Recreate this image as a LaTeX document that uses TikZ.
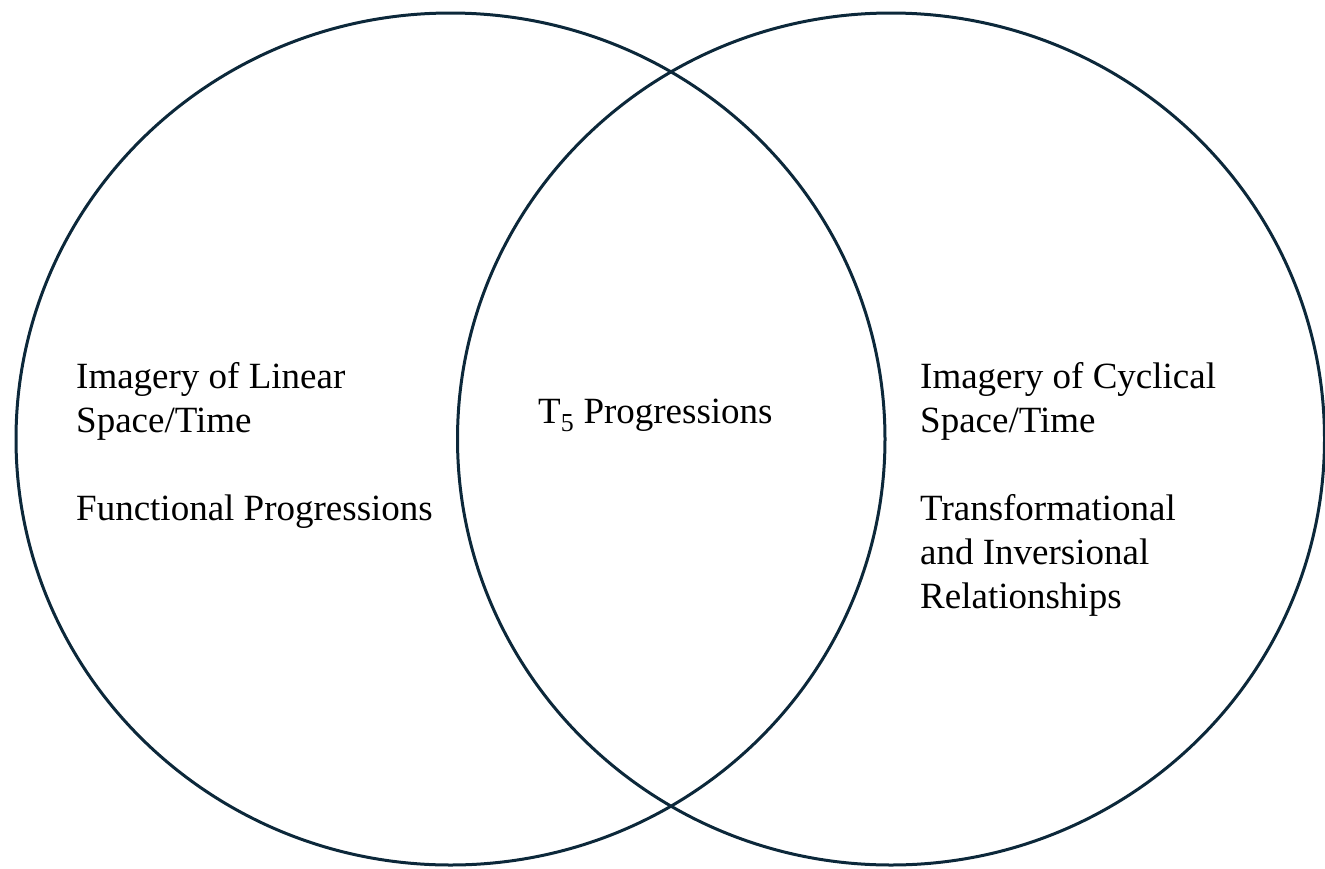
\documentclass[tikz,border=0pt]{standalone}
\usepackage{fontspec}
\setmainfont{Liberation Serif}
\newfontfamily\timesfont{Liberation Serif}
\definecolor{ring}{RGB}{12,40,58}
\begin{document}
\begin{tikzpicture}[x=1pt,y=-1pt,
  ringline/.style={draw=ring,line width=3pt},
  lbl/.style={anchor=base west,inner sep=0pt,font=\timesfont\fontsize{37}{44}\selectfont,align=left}]
\useasboundingbox (0,0) rectangle (1325,868);
\draw[ringline] (450.5,439) ellipse [x radius=434.5,y radius=426];
\draw[ringline] (891,439) ellipse [x radius=433.5,y radius=426];
\node[lbl] (leftA) at (76,432) {Imagery of Linear\\Space/Time};
\node[lbl] (leftB) at (76,520) {Functional Progressions};
\node[lbl] (mid) at (538,423) {T\textsubscript{5} Progressions};
\node[lbl] (rightA) at (920,432) {Imagery of Cyclical\\Space/Time};
\node[lbl] (rightB) at (920,608) {Transformational\\and Inversional\\Relationships};
\end{tikzpicture}
\end{document}
